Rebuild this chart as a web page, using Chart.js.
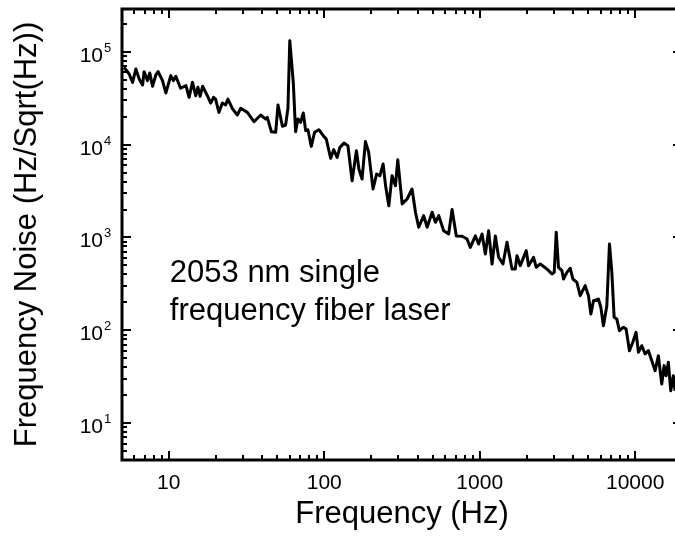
<!DOCTYPE html>
<html>
<head>
<meta charset="utf-8">
<script src="https://cdn.jsdelivr.net/npm/chart.js@4.4.1/dist/chart.umd.min.js"></script>
<style>
  html, body { margin: 0; padding: 0; background: #fff; overflow: hidden; }
  #wrap { width: 685px; height: 543px; }
</style>
</head>
<body>
<div id="wrap"><canvas id="noise-chart" width="685" height="543"></canvas></div>
<script>
// data (Hz, Hz/sqrt(Hz))
const freqHz = [
  5.16, 5.56, 5.85, 6.14, 6.45, 6.78, 6.94, 7.30, 7.55, 7.86,
  8.25, 8.54, 9.11, 9.57, 10.3, 10.7, 11.1, 11.9, 12.9, 13.5,
  14.2, 14.9, 15.4, 15.9, 16.5, 17.7, 18.6, 19.4, 20.0, 21.0,
  22.1, 23.2, 24.0, 25.7, 27.6, 29.0, 32.0, 35.3, 39.0, 42.0,
  43.0, 45.7, 48.7, 50.4, 53.8, 56.4, 58.4, 60.0, 63.2, 65.4,
  67.7, 70.4, 73.3, 75.9, 78.5, 82.5, 86.6, 92.3, 98.5, 103,
  110, 115, 121, 126, 134, 142, 151, 161, 167, 175,
  184, 193, 206, 217, 228, 239, 248, 260, 273, 287,
  297, 317, 341, 367, 386, 405, 436, 459, 494, 519,
  545, 586, 631, 664, 707, 770, 829, 870, 937, 984,
  1035, 1087, 1141, 1200, 1260, 1323, 1411, 1497, 1613, 1693,
  1736, 1823, 1992, 2061, 2220, 2309, 2450, 2705, 2913, 3014,
  3105, 3211, 3378, 3459, 3637, 3819, 3975, 4216, 4428, 4767,
  5005, 5186, 5389, 5803, 6013, 6248, 6570, 6830, 7076, 7320,
  7617, 7914, 8400, 8740, 9180, 9650, 10130, 10490, 11030, 11580,
  12160, 12790, 13430, 14090, 14820, 15340, 15790, 16340, 16930, 17590, 18050
];
const noise = [
  68200, 57800, 47000, 65500, 51100, 44000, 61200, 49000, 59300, 42600,
  56400, 61200, 49000, 36100, 55500, 49000, 54600, 40600, 43300, 32400,
  47000, 33700, 41600, 33200, 42600, 33700, 28100, 32400, 31000, 22300,
  28100, 26800, 31000, 24300, 20900, 24700, 22300, 17700, 20900, 18900,
  19700, 13800, 13600, 26800, 15800, 16300, 24700, 132000, 47000, 13800,
  18900, 17400, 22000, 14200, 14500, 9600, 13600, 14500, 12500, 11500,
  7130, 8840, 7310, 9370, 10400, 9750, 4090, 8610, 5470, 4260,
  10800, 8280, 3330, 4830, 4630, 6190, 3610, 2200, 4630, 3610,
  6890, 2300, 2600, 3330, 1870, 1290, 1720, 1290, 1870, 1460,
  1720, 1180, 1090, 2000, 1040, 1030, 964, 783, 1040, 851,
  1090, 664, 1180, 518, 1040, 612, 518, 888, 458, 458,
  637, 497, 721, 497, 612, 477, 518, 458, 405, 421,
  1140, 477, 439, 357, 421, 466, 357, 329, 236, 303,
  236, 150, 208, 217, 177, 112, 184, 851, 421, 138,
  132, 99, 108, 103, 60.3, 74.3, 95.1, 57.9, 68.2, 55.6,
  60.3, 47.0, 36.7, 53.2, 26.4, 41.6, 32.4, 45.2, 22.3, 32.4, 22.3
];

// axis labels
const xTickValues = [10, 100, 1000, 10000];
const xTickLabels = ["10", "100", "1000", "10000"];
const yTickValues = [10, 100, 1000, 10000, 100000];
const yTickExps = ["1", "2", "3", "4", "5"];
const xTitle = "Frequency (Hz)";
const yTitle = "Frequency Noise (Hz/Sqrt(Hz))";
const noteLines = ["2053 nm single", "frequency fiber laser"];

const FONT = '"Liberation Sans", Arial, sans-serif';

// 1,2,...,9 x 10^n -> tick, 10^n -> major
function tickKind(v) {
  const e = Math.floor(Math.log10(v) + 1e-9);
  const m = v / Math.pow(10, e);
  if (Math.abs(m - Math.round(m)) > 1e-6) return null;
  return Math.round(m) === 1 ? "major" : "minor";
}

// box, inward ticks, labels
const framePlugin = {
  id: "frame",
  afterDatasetsDraw(chart) {
    const { ctx, chartArea: a, scales } = chart;
    const xs = scales.x;
    const ys = scales.y;
    ctx.save();
    ctx.strokeStyle = "#000";
    ctx.fillStyle = "#000";
    ctx.lineWidth = 2;
    ctx.beginPath();
    xs.ticks.forEach((t) => {
      const k = tickKind(t.value);
      if (!k) return;
      const px = Math.round(xs.getPixelForValue(t.value));
      if (px <= a.left + 1 || px >= a.right - 1) return;
      const len = k === "major" ? 9 : 5;
      ctx.moveTo(px, a.bottom);
      ctx.lineTo(px, a.bottom - len);
      ctx.moveTo(px, a.top);
      ctx.lineTo(px, a.top + len);
    });
    ys.ticks.forEach((t) => {
      const k = tickKind(t.value);
      if (!k) return;
      const py = Math.round(ys.getPixelForValue(t.value));
      if (py <= a.top + 1 || py >= a.bottom - 1) return;
      const len = k === "major" ? 9 : 5;
      ctx.moveTo(a.left, py);
      ctx.lineTo(a.left + len, py);
      ctx.moveTo(a.right, py);
      ctx.lineTo(a.right - len, py);
    });
    ctx.stroke();

    ctx.lineWidth = 3;
    ctx.strokeRect(a.left, a.top, a.right - a.left, a.bottom - a.top);

    // x tick labels
    ctx.font = "21px " + FONT;
    ctx.textAlign = "center";
    ctx.textBaseline = "alphabetic";
    xTickValues.forEach((v, i) => {
      ctx.fillText(xTickLabels[i], xs.getPixelForValue(v), a.bottom + 29);
    });

    // y tick labels 10^n
    yTickValues.forEach((v, i) => {
      const py = ys.getPixelForValue(v);
      ctx.font = "21px " + FONT;
      ctx.textAlign = "right";
      ctx.fillText("10", a.left - 19, py + 10);
      ctx.font = "13px " + FONT;
      ctx.textAlign = "left";
      ctx.fillText(yTickExps[i], a.left - 18, py);
    });

    // titles
    ctx.font = "31px " + FONT;
    ctx.textAlign = "center";
    ctx.fillText(xTitle, (a.left + a.right) / 2, 523);
    ctx.save();
    ctx.translate(36, (a.top + a.bottom) / 2);
    ctx.rotate(-Math.PI / 2);
    ctx.fillText(yTitle, 0, 0);
    ctx.restore();

    // annotation
    ctx.textAlign = "left";
    const nx = xs.getPixelForValue(10) + 1;
    ctx.fillText(noteLines[0], nx, a.top + 273);
    ctx.fillText(noteLines[1], nx, a.top + 311);
    ctx.restore();
  },
};

const noiseCanvas = document.getElementById("noise-chart");

new Chart(noiseCanvas.getContext("2d"), {
  type: "line",
  data: {
    datasets: [
      {
        data: freqHz.map((f, i) => ({ x: f, y: noise[i] })),
        borderColor: "#000",
        borderWidth: 3,
        borderJoinStyle: "round",
        pointRadius: 0,
        tension: 0,
        fill: false,
      },
    ],
  },
  options: {
    responsive: false,
    animation: false,
    layout: { padding: { top: 9, right: 3, left: 0, bottom: 0 } },
    plugins: {
      legend: { display: false },
      tooltip: { enabled: false },
    },
    scales: {
      x: {
        type: "logarithmic",
        min: 5,
        max: 20000,
        grid: { display: false },
        border: { display: false },
        ticks: { display: false },
        afterFit(s) { s.height = 83; },
      },
      y: {
        type: "logarithmic",
        min: 4,
        max: 290000,
        grid: { display: false },
        border: { display: false },
        ticks: { display: false },
        afterFit(s) { s.width = 122; },
      },
    },
  },
  plugins: [framePlugin],
});
</script>
</body>
</html>
